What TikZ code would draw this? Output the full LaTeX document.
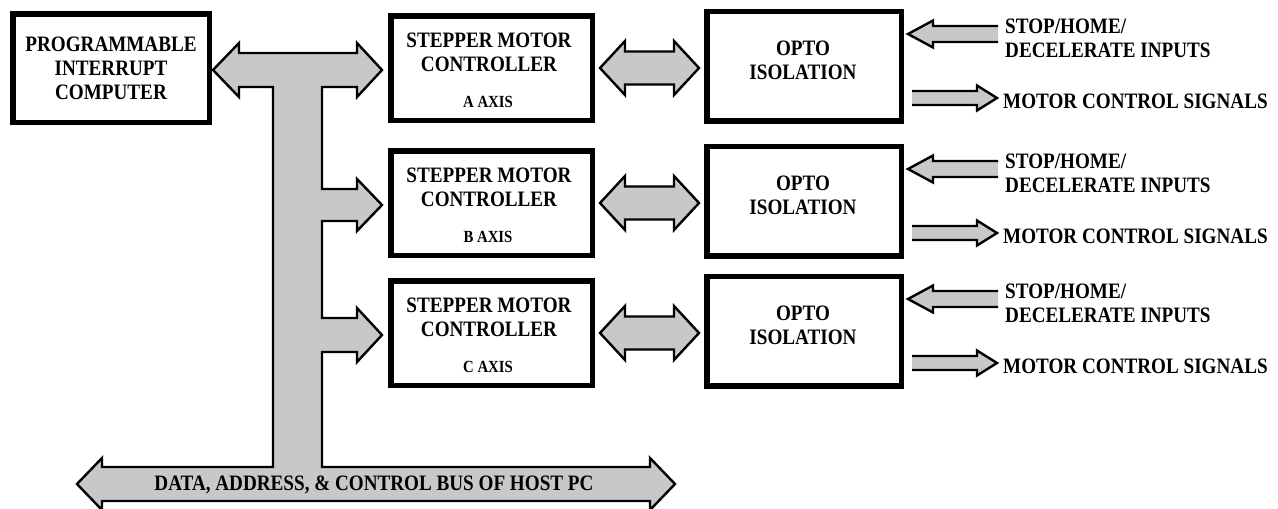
\documentclass[tikz,border=0pt]{standalone}
\usepackage{fontspec}
\setmainfont{Liberation Serif}[FakeStretch=0.87]
\definecolor{busgray}{RGB}{199,200,202}
\def\lblfont{\bfseries\fontsize{22}{24}\selectfont}
\def\axisfont{\bfseries\fontsize{17}{20}\selectfont}
% double block arrow: left tip x, right tip x, y
\newcommand\dblarrow[3]{\filldraw[blockarrow] (#1,#3) -- ++(25,-27) -- ++(0,10.5) -- (#2-25,#3-16.5) -- ++(0,-10.5) -- (#2,#3) -- ++(-25,27) -- ++(0,-10.5) -- (#1+25,#3+16.5) -- ++(0,10.5) -- cycle;}
% open block arrows on the right
\newcommand\inarrow[1]{\filldraw[blockarrow] (998,#1-8) -- (933,#1-8) -- (933,#1-13.5) -- (908,#1) -- (933,#1+13.5) -- (933,#1+8) -- (998,#1+8);}
\newcommand\outarrow[1]{\filldraw[blockarrow] (912,#1-7) -- (977,#1-7) -- (977,#1-12.5) -- (997,#1) -- (977,#1+12.5) -- (977,#1+7) -- (912,#1+7);}

\begin{document}
\begin{tikzpicture}[x=1pt,y=-1pt,
  bigbox/.style={draw,line width=5.5pt,inner sep=0pt,align=center,font=\lblfont},
  lbl/.style={inner sep=0pt,align=center,font=\lblfont},
  axislbl/.style={inner sep=0pt,font=\axisfont},
  blockarrow/.style={fill=busgray,draw=black,line width=2.4pt,line join=miter}]
  \useasboundingbox (0,0) rectangle (1278,509);
  % host bus
  \filldraw[blockarrow] (213,70) -- (239,43) -- (239,53) -- (357,53) -- (357,43) -- (382,70)
    -- (357,97) -- (357,87) -- (322,87) -- (322,189) -- (357,189) -- (357,179) -- (382,205)
    -- (357,231) -- (357,221) -- (322,221) -- (322,318) -- (357,318) -- (357,308) -- (382,335)
    -- (357,362) -- (357,352) -- (322,352) -- (322,467) -- (650,467) -- (650,458) -- (675,484)
    -- (650,510) -- (650,501) -- (102,501) -- (102,510) -- (77,484) -- (102,458) -- (102,467)
    -- (273,467) -- (273,87) -- (239,87) -- (239,97) -- cycle;
  \node[lbl] (bustxt) at (374,485) {DATA, ADDRESS, \& CONTROL BUS OF HOST PC};
  \node[bigbox,minimum width=196.5,minimum height=108.5] (pic) at (111,68) {PROGRAMMABLE\\INTERRUPT\\COMPUTER};
  % one row per axis
  \foreach \ax/\yc in {A/68,B/203,C/333}{
    \dblarrow{600}{699}{\yc}
    \inarrow{\yc-34}
    \outarrow{\yc+30}
    \node[bigbox,minimum width=201.5,minimum height=104.5] (smc\ax) at (491.5,\yc) {};
    \node[lbl] (smctxt\ax) at (489,\yc-16) {STEPPER MOTOR\\CONTROLLER};
    \node[axislbl] (axis\ax) at (488,\yc+34) {\ax\ AXIS};
    \node[bigbox,minimum width=194.5,minimum height=109.5] (opto\ax) at (804,\yc-2) {};
    \node[lbl] (optotxt\ax) at (803,\yc-8) {OPTO\\ISOLATION};
    \node[lbl,anchor=west,align=left] (in\ax) at (1005,\yc-30) {STOP/HOME/\\DECELERATE INPUTS};
    \node[lbl,anchor=west] (out\ax) at (1003,\yc+33) {MOTOR CONTROL SIGNALS};
  }
\end{tikzpicture}
\end{document}
